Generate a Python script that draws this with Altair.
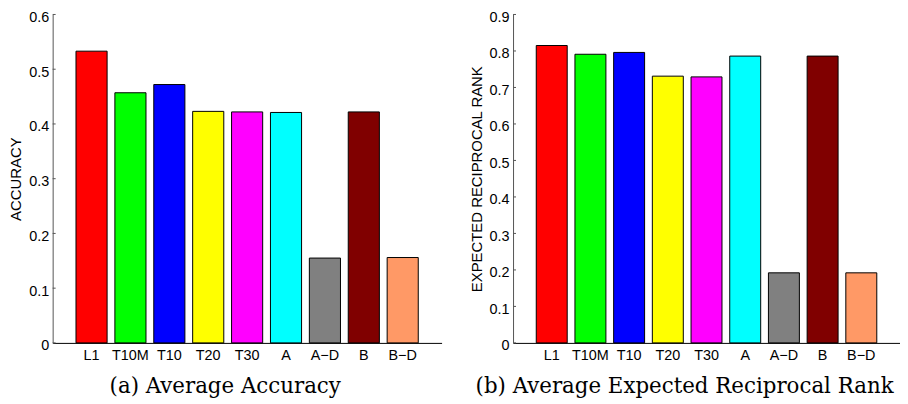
import altair as alt
import pandas as pd

categories = ["L1", "T10M", "T10", "T20", "T30", "A", "A\u2212D", "B", "B\u2212D"]
accuracy = [0.533, 0.457, 0.472, 0.423, 0.422, 0.421, 0.155, 0.422, 0.156]
err = [0.815, 0.791, 0.796, 0.731, 0.729, 0.786, 0.192, 0.786, 0.192]
colors = ["#FF0000", "#00FF00", "#0000FF", "#FFFF00", "#FF00FF",
          "#00FFFF", "#808080", "#800000", "#FF9966"]
acc_ticks = [0, 0.1, 0.2, 0.3, 0.4, 0.5, 0.6]
err_ticks = [0, 0.1, 0.2, 0.3, 0.4, 0.5, 0.6, 0.7, 0.8, 0.9]

SANS = "Liberation Sans"


def panel(vals, ytitle, caption, ticks, w):
    df = pd.DataFrame({"method": categories, "value": vals})
    tdf = pd.DataFrame({"t": ticks})
    ymax = ticks[-1]
    yaxis = alt.Axis(
        title=ytitle, values=ticks, ticks=False, tickSize=0, grid=False,
        labelExpr="datum.value == 0 ? '0' : format(datum.value, '.1f')",
        labelPadding=4, titlePadding=5, labelFont=SANS, labelFontSize=14.5,
        labelOffset=3,
        labelColor="black", titleFont=SANS, titleFontSize=15,
        titleFontWeight="normal", titleColor="black",
        domainColor="#555555", domainWidth=1,
    )
    yscale = alt.Scale(domain=[0, ymax], nice=False)
    bars = alt.Chart(df).mark_bar(stroke="black", strokeWidth=1).encode(
        x=alt.X(
            "method:N", sort=categories,
            scale=alt.Scale(paddingInner=0.2, paddingOuter=0.6),
            axis=alt.Axis(title=None, labelAngle=0, ticks=False, tickSize=0,
                          labelPadding=6, labelFont=SANS, labelFontSize=14.5,
                          labelColor="black", domainColor="black",
                          domainWidth=1),
        ),
        y=alt.Y("value:Q", scale=yscale, axis=yaxis),
        color=alt.Color("method:N",
                        scale=alt.Scale(domain=categories, range=colors),
                        legend=None),
    )
    tickmarks = alt.Chart(tdf).mark_rule(color="#555555", strokeWidth=1).encode(
        y=alt.Y("t:Q", scale=yscale, axis=yaxis),
        x=alt.value(0),
        x2=alt.value(3),
    )
    return alt.layer(bars, tickmarks).properties(
        width=w, height=331,
        title=alt.TitleParams(caption, orient="bottom", frame="bounds",
                              anchor="middle", font="DejaVu Serif",
                              fontSize=21.5, fontWeight="normal", offset=14,
                              color="black"),
    )


left = panel(accuracy, "ACCURACY", "(a) Average Accuracy", acc_ticks, 392)
right = panel(err, "EXPECTED RECIPROCAL RANK",
              "(b) Average Expected Reciprocal Rank", err_ticks, 390)

chart = alt.hconcat(left, right, spacing=27).properties(
    padding={"left": 0, "top": 0, "right": 0, "bottom": 0}
).configure_view(stroke=None)

chart.save("out.html", embed_options={"renderer": "svg", "actions": False})
